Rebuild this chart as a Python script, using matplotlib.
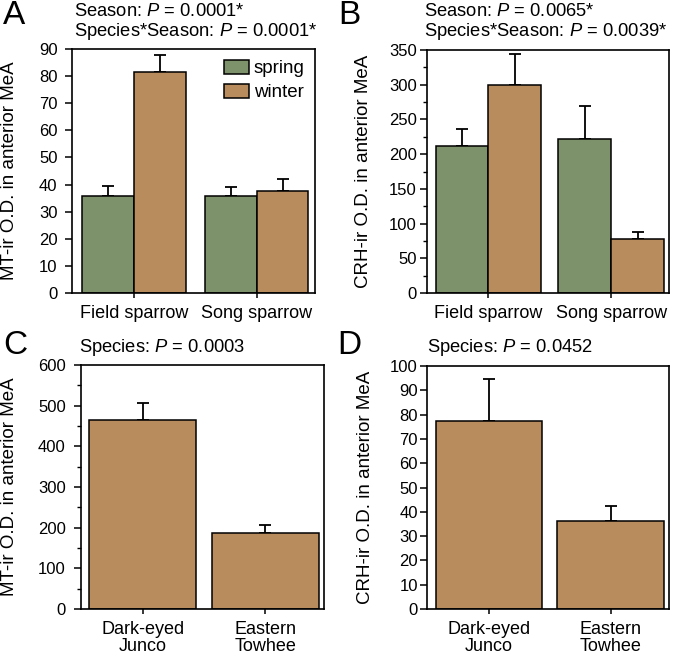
import numpy as np
import matplotlib
matplotlib.use("Agg")
import matplotlib.pyplot as plt
from matplotlib.ticker import MultipleLocator

plt.rcParams["font.family"] = ["Liberation Sans", "DejaVu Sans"]
plt.rcParams["mathtext.fontset"] = "custom"
plt.rcParams["mathtext.rm"] = "Liberation Sans"
plt.rcParams["mathtext.it"] = "Liberation Sans:italic"

# data
sparrows = ["Field sparrow", "Song sparrow"]
seasons = ["spring", "winter"]
mt_spring = [35.8, 35.8]
mt_spring_err = [3.8, 3.2]
mt_winter = [81.5, 37.6]
mt_winter_err = [6.3, 4.4]
crh_spring = [212, 221.5]
crh_spring_err = [24, 48.5]
crh_winter = [299, 77.7]
crh_winter_err = [45, 10]

others = ["Dark-eyed\nJunco", "Eastern\nTowhee"]
mt_other = [465, 187]
mt_other_err = [42, 20]
crh_other = [77.3, 36.2]
crh_other_err = [17.4, 6.0]

green = "#7d916a"
brown = "#b98c5e"

fig = plt.figure(figsize=(6.76, 6.57), dpi=100)
W, H = 676, 657


def add_ax(l, r, t, b):
    return fig.add_axes([l / W, 1 - b / H, (r - l) / W, (b - t) / H])


axA = add_ax(72, 315, 49, 293)
axB = add_ax(427, 669, 50, 293)
axC = add_ax(81, 324, 365, 609)
axD = add_ax(427, 669, 366, 609)

ekw = dict(lw=1.3, capthick=1.3)


def style(ax, ymax, major, minor, xlim, labels, ylabel, lab_x, pad):
    ax.set_ylim(0, ymax)
    ax.set_xlim(*xlim)
    ax.yaxis.set_major_locator(MultipleLocator(major))
    if minor:
        ax.yaxis.set_minor_locator(MultipleLocator(minor))
    ax.set_xticks(range(len(labels)))
    ax.set_xticklabels(labels, fontsize=13, linespacing=1.0)
    ax.tick_params(axis="y", direction="out", length=5, width=1.1, labelsize=12, pad=pad)
    ax.tick_params(axis="y", which="minor", direction="out", length=2.8, width=1.0)
    ax.tick_params(axis="x", direction="out", length=3.5, width=1.1, pad=5)
    for s in ax.spines.values():
        s.set_linewidth(1.2)
    ax.set_ylabel(ylabel, fontsize=13.5)
    ax.yaxis.set_label_coords(lab_x, 0.5)


def grouped(ax, sp, sp_err, wi, wi_err, w):
    x = np.arange(len(sparrows))
    ax.bar(x - w / 2, sp, w, color=green, edgecolor="black", lw=1.1, label=seasons[0], zorder=2)
    ax.bar(x + w / 2, wi, w, color=brown, edgecolor="black", lw=1.1, label=seasons[1], zorder=2)
    ax.errorbar(x - w / 2, sp, yerr=[np.zeros(2), sp_err], fmt="none", ecolor="black", capsize=4, zorder=1, **ekw)
    ax.errorbar(x + w / 2, wi, yerr=[np.zeros(2), wi_err], fmt="none", ecolor="black", capsize=4, zorder=1, **ekw)


def single(ax, vals, errs):
    x = np.arange(len(others))
    ax.bar(x, vals, 0.875, color=brown, edgecolor="black", lw=1.1, zorder=2)
    ax.errorbar(x, vals, yerr=[np.zeros(2), errs], fmt="none", ecolor="black", capsize=4, zorder=1, **ekw)


grouped(axA, mt_spring, mt_spring_err, mt_winter, mt_winter_err, 0.42)
style(axA, 90, 10, None, (-0.505, 1.473), sparrows, "MT-ir O.D. in anterior MeA", -0.222, 5.5)
axA.legend(loc="upper left", bbox_to_anchor=(0.625, 0.955), frameon=False, fontsize=13.5,
           handlelength=1.35, handleheight=0.75, handletextpad=0.25, labelspacing=0.35,
           borderpad=0, borderaxespad=0)

grouped(axB, crh_spring, crh_spring_err, crh_winter, crh_winter_err, 0.43)
style(axB, 350, 50, 25, (-0.5, 1.47), sparrows, "CRH-ir O.D. in anterior MeA", -0.228, 2.5)

single(axC, mt_other, mt_other_err)
style(axC, 600, 100, 50, (-0.505, 1.48), others, "MT-ir O.D. in anterior MeA", -0.258, 6)

single(axD, crh_other, crh_other_err)
style(axD, 100, 10, None, (-0.51, 1.479), others, "CRH-ir O.D. in anterior MeA", -0.218, 1.5)

# panel letters and statistics
def ftext(x, y, s, **kw):
    fig.text(x / W, 1 - y / H, s, **kw)


for x, y, s in [(3, 16, "A"), (338, 16, "B"), (3, 346, "C"), (337, 346, "D")]:
    ftext(x, y, s, fontsize=24, va="center", ha="left")

stats = [
    (74, 12, "Season: $P$ = 0.0001*"),
    (74, 32, "Species*Season: $P$ = 0.0001*"),
    (424, 12, "Season: $P$ = 0.0065*"),
    (424, 32, "Species*Season: $P$ = 0.0039*"),
    (79, 348, "Species: $P$ = 0.0003"),
    (427, 348, "Species: $P$ = 0.0452"),
]
for x, y, s in stats:
    ftext(x, y, s, fontsize=13.2, va="center", ha="left")

fig.savefig("out.png", dpi=100)
